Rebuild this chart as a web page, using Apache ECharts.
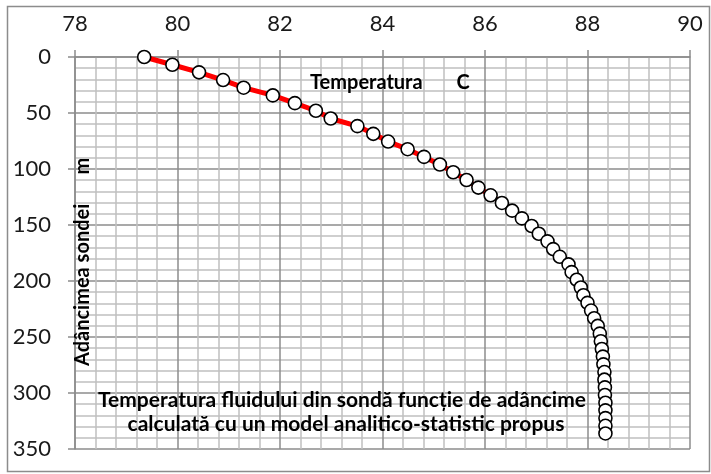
<!DOCTYPE html>
<html>
<head>
<meta charset="utf-8">
<script src="https://cdn.jsdelivr.net/npm/echarts@6/dist/echarts.min.js"></script>
<style>
  html, body { margin: 0; padding: 0; background: #fff; }
  #chart { width: 711px; height: 474px; }
</style>
</head>
<body>
<div id="chart"></div>
<script>
// adancimea sondei (m)
const depthValues = [
  0, 6.9, 13.7, 20.6, 27.4, 34.3, 41.2, 48.0, 54.9, 61.7,
  68.6, 75.5, 82.3, 89.2, 96.0, 102.9, 109.8, 116.6, 123.5, 130.3,
  137.2, 144.1, 150.9, 157.8, 164.6, 171.5, 178.4, 185.2, 192.1, 198.9,
  205.8, 212.7, 219.5, 226.4, 233.2, 240.1, 247.0, 253.8, 260.7, 267.5,
  274.4, 281.3, 288.1, 295.0, 301.8, 308.7, 315.5, 322.4, 329.3, 336.1
]
// temperatura (C)
const tempValues = [
  79.35, 79.90, 80.42, 80.89, 81.29, 81.86, 82.29, 82.70, 82.99, 83.51,
  83.82, 84.11, 84.49, 84.81, 85.12, 85.38, 85.64, 85.87, 86.11, 86.33,
  86.53, 86.72, 86.91, 87.05, 87.22, 87.33, 87.46, 87.63, 87.69, 87.79,
  87.87, 87.92, 88.00, 88.07, 88.13, 88.20, 88.24, 88.26, 88.28, 88.30,
  88.31, 88.33, 88.33, 88.34, 88.34, 88.35, 88.35, 88.35, 88.35, 88.35
]
const xTicks = [78, 80, 82, 84, 86, 88, 90]
const yTicks = [0, 50, 100, 150, 200, 250, 300, 350]

const chart = echarts.init(document.getElementById("chart"))

const majorColor = "#8c8c8c"
const minorColor = "#c0c0c0"
const font = "Lato"

const option = {
  animation: false,
  grid: { left: 75, right: 21, top: 57, bottom: 25 },
  xAxis: {
    type: "value",
    position: "top",
    min: xTicks[0],
    max: xTicks[xTicks.length - 1],
    interval: 2,
    axisLine: { show: true, lineStyle: { color: majorColor, width: 1.5 } },
    axisTick: { show: true, length: 7, lineStyle: { color: majorColor, width: 1.5 } },
    axisLabel: { color: "#1a1a1a", fontSize: 22, fontFamily: font, margin: 22 },
    splitLine: { show: true, lineStyle: { color: majorColor, width: 1.5 } },
    minorTick: { show: false, splitNumber: 5 },
    minorSplitLine: { show: true, lineStyle: { color: minorColor, width: 1.5 } }
  },
  yAxis: {
    type: "value",
    inverse: true,
    min: yTicks[0],
    max: yTicks[yTicks.length - 1],
    interval: 50,
    axisLine: { show: true, lineStyle: { color: majorColor, width: 1.5 } },
    axisTick: { show: true, length: 7, lineStyle: { color: majorColor, width: 1.5 } },
    axisLabel: { color: "#1a1a1a", fontSize: 22, fontFamily: font, margin: 24 },
    splitLine: { show: true, lineStyle: { color: majorColor, width: 1.5 } },
    minorTick: { show: false, splitNumber: 5 },
    minorSplitLine: { show: true, lineStyle: { color: minorColor, width: 1.5 } }
  },
  series: [
    {
      type: "line",
      data: tempValues.map((t, i) => [t, depthValues[i]]),
      symbol: "circle",
      symbolSize: 13,
      lineStyle: { color: "#ff0000", width: 5 },
      itemStyle: { color: "#ffffff", borderColor: "#000000", borderWidth: 1.6 },
      z: 5
    }
  ],
  graphic: [
    {
      type: "rect",
      left: 5, top: 4,
      shape: { width: 702, height: 465 },
      style: { fill: null, stroke: "#8c8c8c", lineWidth: 1.5 },
      silent: true
    },
    {
      type: "text",
      x: 310, y: 83,
      style: { text: "Temperatura       C", font: "bold 20px Lato", fill: "#000", verticalAlign: "middle" },
      z: 10
    },
    {
      type: "text",
      x: 73, y: 366,
      rotation: Math.PI / 2,
      style: { text: "Adâncimea sondei      m", font: "bold 20px Lato", fill: "#000" },
      z: 10
    },
    {
      type: "text",
      x: 342, y: 400,
      style: {
        text: "Temperatura fluidului din sondă funcție de adâncime",
        font: "bold 21px Lato", fill: "#000", align: "center", verticalAlign: "middle"
      },
      z: 10
    },
    {
      type: "text",
      x: 346, y: 424,
      style: {
        text: "calculată cu un model analitico-statistic propus",
        font: "bold 21px Lato", fill: "#000", align: "center", verticalAlign: "middle"
      },
      z: 10
    }
  ]
}

chart.setOption(option)
</script>
</body>
</html>
